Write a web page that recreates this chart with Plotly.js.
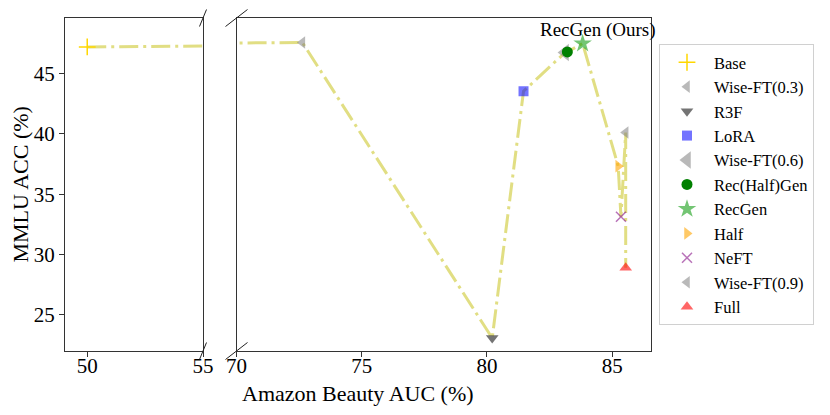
<!DOCTYPE html>
<html>
<head>
<meta charset="utf-8">
<script src="https://cdn.plot.ly/plotly-3.0.1.min.js"></script>
<style>
  body { margin: 0; background: #fff; }
  #chart { width: 830px; height: 415px; }
</style>
</head>
<body>
<div id="chart"></div>
<script>
// Methods, in the order the dash-dot line joins them
var methods = ['Base', 'Wise-FT(0.3)', 'R3F', 'LoRA', 'Wise-FT(0.6)', 'Rec(Half)Gen',
  'RecGen', 'Half', 'NeFT', 'Wise-FT(0.9)', 'Full'];
var auc = [50.0, 72.63, 80.21, 81.46, 83.12, 83.21, 83.82, 85.24, 85.35, 85.54, 85.54];
var mmlu = [47.2, 47.57, 23.07, 43.53, 46.74, 46.79, 47.49, 37.32, 33.12, 40.11, 28.9];

var leftTicks = [50, 55];
var rightTicks = [70, 75, 80, 85];
var yTicks = [25, 30, 35, 40, 45];

// marker look for each method
var styles = {
  'Base':         { symbol: 'cross-thin', size: 12, color: '#ffd700', thin: true },
  'Wise-FT(0.3)': { symbol: 'triangle-left', size: 11, color: 'rgba(128,128,128,0.55)' },
  'R3F':          { symbol: 'triangle-down', size: 11, color: 'rgba(70,70,70,0.75)' },
  'LoRA':         { symbol: 'square', size: 10, color: 'rgba(0,0,255,0.55)' },
  'Wise-FT(0.6)': { symbol: 'triangle-left', size: 15, color: 'rgba(128,128,128,0.55)' },
  'Rec(Half)Gen': { symbol: 'circle', size: 11, color: '#008000' },
  'RecGen':       { symbol: 'star', size: 14, color: 'rgba(0,150,0,0.55)' },
  'Half':         { symbol: 'triangle-right', size: 11, color: 'rgba(255,165,0,0.6)' },
  'NeFT':         { symbol: 'x-thin', size: 10, color: 'rgba(128,0,128,0.55)', thin: true },
  'Wise-FT(0.9)': { symbol: 'triangle-left', size: 11, color: 'rgba(128,128,128,0.55)' },
  'Full':         { symbol: 'triangle-up', size: 11, color: 'rgba(255,0,0,0.6)' }
};

var serif = 'Liberation Serif, Times New Roman, serif';
var lineStyle = { color: 'rgba(200,195,30,0.55)', width: 3, dash: '19px,5px,3px,5px' };

var data = [];
// the connecting line, drawn in both panels (each panel clips its own part)
['x', 'x2'].forEach(function (xa, i) {
  data.push({
    x: auc, y: mmlu, xaxis: xa, yaxis: i ? 'y2' : 'y',
    mode: 'lines', line: lineStyle, showlegend: false, hoverinfo: 'skip'
  });
});

methods.forEach(function (m, i) {
  var s = styles[m];
  var onLeft = auc[i] < 60;
  data.push({
    x: [auc[i]], y: [mmlu[i]], name: m,
    xaxis: onLeft ? 'x' : 'x2', yaxis: onLeft ? 'y' : 'y2',
    mode: 'markers', type: 'scatter',
    marker: {
      symbol: s.symbol, size: s.size, color: s.color,
      line: s.thin ? { color: s.color, width: 1.5 } : { width: 0 }
    }
  });
});

// plot area in pixels, used for the break marks
var L = 65, W = 586, T = 18, H = 333;
function px(v) { return (v - L) / W; }
function py(v) { return (T + H - v) / H; }
var leftEnd = 203, rightStart = 236.5;

function breakMark(cx, cy, dx, dy) {
  return {
    type: 'line', xref: 'paper', yref: 'paper',
    x0: px(cx - dx), y0: py(cy + dy), x1: px(cx + dx), y1: py(cy - dy),
    line: { color: '#222', width: 1 }
  };
}

var axisBase = {
  showline: true, mirror: true, linecolor: '#333', linewidth: 1,
  showgrid: false, zeroline: false, ticks: 'outside', ticklen: 5,
  tickcolor: '#333', tickfont: { family: serif, size: 21, color: '#000' }
};

var layout = {
  width: 830, height: 415,
  margin: { l: L, r: 830 - L - W, t: T, b: 415 - T - H },
  paper_bgcolor: '#fff', plot_bgcolor: '#fff',
  showlegend: true,
  xaxis: Object.assign({}, axisBase, {
    domain: [0, px(leftEnd)], range: [49.04, 55], tickvals: leftTicks,
    ticklabelstandoff: -9
  }),
  xaxis2: Object.assign({}, axisBase, {
    domain: [px(rightStart), 1], range: [70, 86.55], tickvals: rightTicks,
    ticklabelstandoff: -9
  }),
  yaxis: Object.assign({}, axisBase, {
    range: [22.0, 49.6], tickvals: yTicks, anchor: 'x'
  }),
  yaxis2: Object.assign({}, axisBase, {
    range: [22.0, 49.6], anchor: 'x2', ticks: '', showticklabels: false
  }),
  legend: {
    x: px(659), y: py(44), xanchor: 'left', yanchor: 'top',
    bgcolor: '#fff', bordercolor: '#d0d0d0', borderwidth: 1,
    font: { family: serif, size: 16.5, color: '#000' }, itemwidth: 44
  },
  annotations: [
    { text: 'RecGen (Ours)', xref: 'x2', yref: 'y', x: 84.45, y: 48.6,
      showarrow: false, font: { family: serif, size: 19, color: '#000' } },
    { text: 'Amazon Beauty AUC (%)', xref: 'paper', yref: 'paper',
      x: 0.5, y: py(393), xanchor: 'center', yanchor: 'middle', showarrow: false,
      font: { family: serif, size: 22, color: '#000' } },
    { text: 'MMLU ACC (%)', xref: 'paper', yref: 'paper',
      x: px(20), y: 0.5, xanchor: 'center', yanchor: 'middle',
      textangle: -90, showarrow: false,
      font: { family: serif, size: 22, color: '#000' } }
  ],
  shapes: [
    breakMark(leftEnd, T, 3.5, 8.5),
    breakMark(leftEnd, T + H, 3.5, 8.5),
    breakMark(rightStart, T, 11, 8.5),
    breakMark(rightStart, T + H, 11, 8.5)
  ]
};

Plotly.newPlot('chart', data, layout, { displayModeBar: false, staticPlot: true });
</script>
</body>
</html>
